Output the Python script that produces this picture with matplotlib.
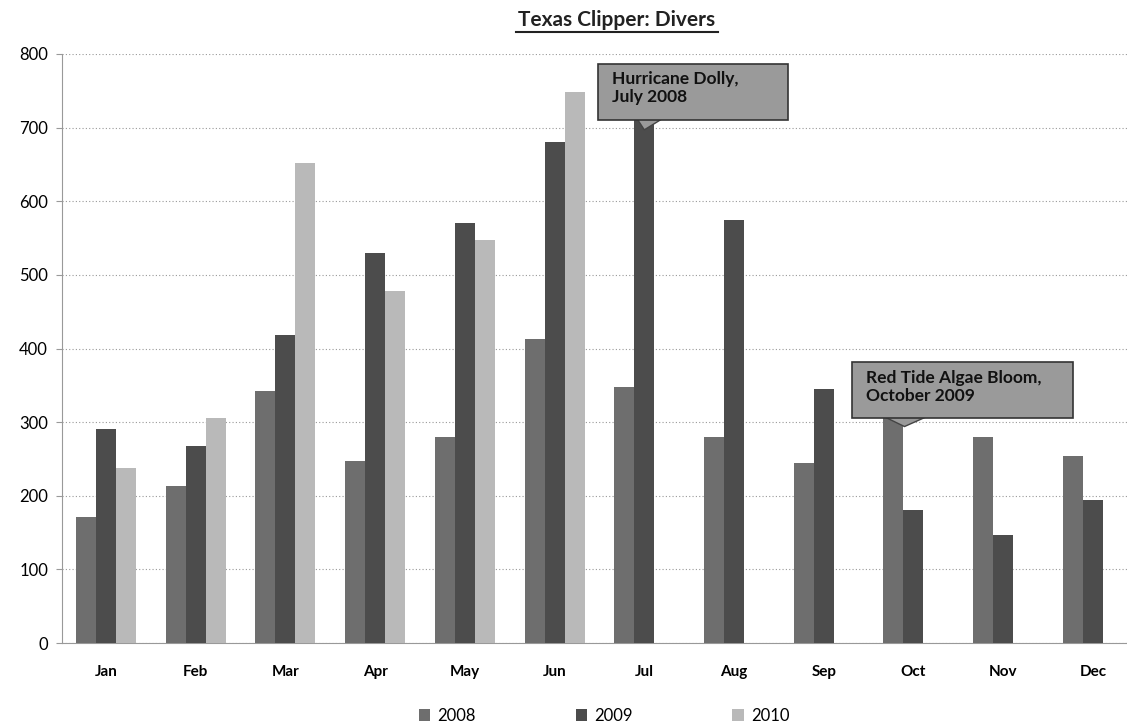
import numpy as np
import matplotlib
matplotlib.use("Agg")
import matplotlib.pyplot as plt
from matplotlib.patches import Rectangle, Polygon

plt.rcParams['font.family'] = ['Lato', 'DejaVu Sans']

months = ['Jan', 'Feb', 'Mar', 'Apr', 'May', 'Jun', 'Jul', 'Aug', 'Sep', 'Oct', 'Nov', 'Dec']
divers_2008 = [171, 213, 342, 247, 280, 413, 348, 280, 245, 305, 280, 254]
divers_2009 = [290, 268, 418, 530, 570, 680, 720, 575, 345, 181, 147, 194]
divers_2010 = [238, 305, 652, 478, 548, 748, np.nan, np.nan, np.nan, np.nan, np.nan, np.nan]
years = ['2008', '2009', '2010']

colors = ['#6e6e6e', '#4c4c4c', '#b9b9b9']

fig = plt.figure(figsize=(11.27, 7.26), dpi=100)
ax = fig.add_axes([62 / 1127, 83 / 726, 1065 / 1127, 589 / 726])

x = np.arange(len(months))
w = 0.223
for i, (vals, yr) in enumerate(zip([divers_2008, divers_2009, divers_2010], years)):
    ax.bar(x + (i - 1) * w, vals, width=w, color=colors[i], label=yr, zorder=3)

ax.set_xlim(-0.49, 11.38)
ax.set_ylim(0, 800)
ax.set_yticks(range(0, 801, 100))
ax.yaxis.grid(True, linestyle=(0, (1, 2)), color='#999999', linewidth=0.8, zorder=0)
ax.set_xticks(x)
ax.set_xticklabels(months, fontweight='bold', fontsize=11)
ax.tick_params(axis='x', length=0, pad=16)
ax.tick_params(axis='y', length=4, labelsize=12, color='#999999', pad=6)
for s in ['top', 'right']:
    ax.spines[s].set_visible(False)
ax.spines['left'].set_color('#999999')
ax.spines['bottom'].set_color('#999999')

fig.text(617 / 1127, 1 - 20 / 726, 'Texas Clipper: Divers', ha='center', va='center',
         fontsize=15, fontweight='bold', color='#222222')
fig.add_artist(plt.Line2D([516 / 1127, 718 / 1127], [1 - 32 / 726, 1 - 32 / 726], color='#222222', lw=1.5))


def callout(x0, x1, y0, y1, tri, text):
    ax.add_patch(Polygon(tri, closed=True, fc='#9a9a9a', ec='#444444', lw=1.0, zorder=4))
    ax.add_patch(Rectangle((x0, y0), x1 - x0, y1 - y0, fc='#9a9a9a', ec='#333333', lw=1.2, zorder=5))
    ax.text(x0 + 0.16, y1 - 10, text, fontsize=12.5, fontweight='bold', va='top', ha='left',
            color='#111111', zorder=6, linespacing=1.15)


callout(5.48, 7.60, 711, 787, [(5.92, 712), (6.2, 712), (6.0, 697)], 'Hurricane Dolly,\nJuly 2008')
callout(8.31, 10.78, 306, 381, [(8.68, 307), (9.14, 307), (8.9, 294)], 'Red Tide Algae Bloom,\nOctober 2009')

leg = fig.legend(loc='lower center', bbox_to_anchor=(604 / 1127, -0.018), ncol=3, frameon=False,
                 fontsize=12, handlelength=0.7, handleheight=0.7, columnspacing=6.0, handletextpad=0.4)

fig.savefig('out.png', dpi=100)
